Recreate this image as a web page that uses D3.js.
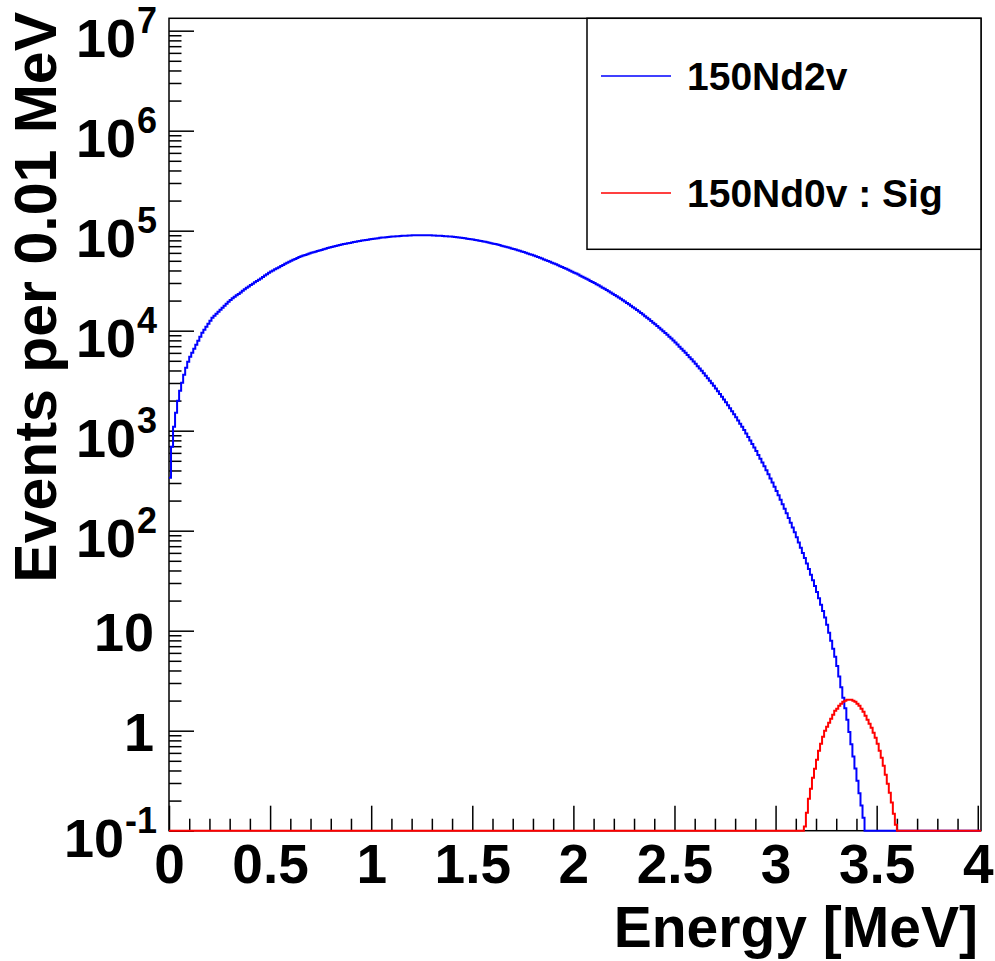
<!DOCTYPE html>
<html><head><meta charset="utf-8">
<script src="https://cdn.jsdelivr.net/npm/d3@7"></script>
<style>
html,body{margin:0;padding:0;background:#fff;}
svg{display:block;font-family:"Liberation Sans",Arial,Helvetica,sans-serif;font-weight:bold;}
</style></head><body>
<svg id="c" width="995" height="961"></svg>
<script>
// ---------------- data ----------------
const binWidth = 0.01;          // MeV per bin
const totalBins = 402;          // histogram range 0 .. 4.02 MeV
const seriesNames = ["150Nd2v", "150Nd0v : Sig"];

// 150Nd 2v spectrum, bins starting at 0 MeV
const nd2vFirstBin = 0;
const nd2vCounts = [
339,692,1096,1514,1995,2512,3020,3631,4266,4898,
5495,6026,6607,7244,7943,8710,9550,10230,10960,11750,
12590,13490,14130,14790,15490,16220,16980,17780,18620,19500,
20330,21080,21830,22580,23330,24160,25050,25950,26840,27730,
28640,29550,30460,31370,32280,33300,34450,35600,36740,37890,
38980,40020,41060,42090,43130,44240,45420,46600,47780,48960,
50090,51170,52250,53330,54410,55410,56340,57260,58190,59110,
60000,60850,61700,62550,63400,64290,65200,66110,67020,67930,
68800,69610,70420,71230,72040,72780,73470,74150,74840,75520,
76220,76930,77650,78360,79070,79710,80270,80830,81380,81940,
82510,83090,83670,84240,84820,85310,85710,86110,86500,86900,
87260,87590,87910,88230,88560,88820,89030,89230,89430,89640,
89780,89870,89950,90030,90120,90120,90030,89950,89870,89780,
89640,89430,89230,89030,88820,88560,88230,87910,87590,87260,
86860,86390,85910,85430,84960,84430,83860,83290,82710,82140,
81520,80850,80190,79520,78850,78130,77360,76590,75810,75040,
74230,73400,72560,71730,70890,70030,69150,68270,67390,66510,
65620,64710,63800,62890,61980,61060,60130,59210,58280,57350,
56410,55460,54510,53550,52600,51650,50710,49770,48830,47890,
46960,46050,45140,44220,43310,42410,41530,40660,39780,38900,
38040,37210,36370,35530,34700,33880,33080,32280,31470,30670,
29900,29150,28410,27670,26920,26200,25510,24810,24120,23420,
22750,22110,21470,20820,20180,19560,18970,18380,17790,17200,
16630,16100,15560,15020,14490,13980,13490,13010,12530,12040,
11590,11160,10730,10300,9875,9473,9097,8721,8344,7968,
7601,7256,6927,6612,6312,6013,5718,5438,5172,4918,
4668,4421,4187,3966,3756,3551,3349,3159,2980,2810,
2644,2483,2331,2189,2055,1924,1796,1677,1566,1462,
1362,1265,1175,1092,1014,938.4,865.8,798.8,737.0,680.0,
625.1,572.9,525.0,481.1,440.9,402.5,366.2,333.2,303.1,275.8,
249.9,225.7,203.8,184.1,166.2,149.5,134.0,120.0,107.5,96.35,
85.90,76.20,67.60,59.97,53.20,46.97,41.29,36.30,31.91,28.05,
24.43,21.09,18.20,15.71,13.56,11.49,9.555,7.946,6.608,5.495,
4.435,3.475,2.723,2.134,1.672,1.286,0.971,0.733,0.553,0.418,
0.315,0.237,0.179,0.135,0.09
];

// 150Nd 0v signal, bins starting at 3.14 MeV
const nd0vFirstBin = 314;
const nd0vCounts = [
0.110,0.151,0.209,0.263,0.339,0.417,0.513,0.631,0.741,0.871,
1.000,1.096,1.202,1.318,1.445,1.585,1.660,1.778,1.862,1.950,
1.995,2.042,2.042,2.042,1.995,1.950,1.862,1.778,1.660,1.549,
1.413,1.288,1.175,1.072,0.955,0.851,0.741,0.631,0.537,0.447,
0.363,0.295,0.240,0.191,0.148,0.115
];

const xDomain = [0, 4.016];
const yDomain = [0.1, 1.33e7];
const xMajorTicks = [0, 0.5, 1, 1.5, 2, 2.5, 3, 3.5, 4];
const xMajorLabels = ["0", "0.5", "1", "1.5", "2", "2.5", "3", "3.5", "4"];
const xMinorTicks = [0.1,0.2,0.3,0.4,0.6,0.7,0.8,0.9,1.1,1.2,1.3,1.4,1.6,1.7,1.8,1.9,
  2.1,2.2,2.3,2.4,2.6,2.7,2.8,2.9,3.1,3.2,3.3,3.4,3.6,3.7,3.8,3.9];
const yMajorTicks = [0.1, 1, 10, 1e2, 1e3, 1e4, 1e5, 1e6, 1e7];
const yMajorLabels = [["10","-1"],["1",""],["10",""],["10","2"],["10","3"],["10","4"],["10","5"],["10","6"],["10","7"]];
const yMinorMultipliers = [2,3,4,5,6,7,8,9];
const xTitle = "Energy [MeV]";
const yTitle = "Events per 0.01 MeV";

// ---------------- layout ----------------
const L = 169, R = 981, T = 18.3, B = 830.7;
const svg = d3.select("#c");
const x = d3.scaleLinear().domain(xDomain).range([L, R]);
const y = d3.scaleLog().domain(yDomain).range([B, T]);

svg.append("rect").attr("width", 995).attr("height", 961).attr("fill", "#fff");

svg.append("clipPath").attr("id", "clip").append("rect")
  .attr("x", L).attr("y", T - 2).attr("width", R - L).attr("height", B - T + 4);

// frame
svg.append("rect").attr("x", L).attr("y", T).attr("width", R - L).attr("height", B - T)
  .attr("fill", "none").attr("stroke", "#000").attr("stroke-width", 1.5);

const yMinorTicks = [];
for (let e = -1; e <= 7; e++) yMinorMultipliers.forEach(m => {
  const v = m * Math.pow(10, e);
  if (v < yDomain[1]) yMinorTicks.push(v);
});

// x axis
const gx = svg.append("g").attr("transform", `translate(0,${B})`);
gx.call(d3.axisBottom(x).tickValues(xMajorTicks).tickSize(-25).tickPadding(13)
  .tickFormat((d, i) => xMajorLabels[i]));
const gxm = svg.append("g").attr("transform", `translate(0,${B})`);
gxm.call(d3.axisBottom(x).tickValues(xMinorTicks).tickSize(-12).tickFormat(""));
[gx, gxm].forEach(g => {
  g.select(".domain").remove();
  g.selectAll(".tick line").attr("stroke", "#000").attr("stroke-width", 1.5);
});
gx.selectAll(".tick text").attr("fill", "#000").attr("font-size", 55)
  .attr("font-family", '"Liberation Sans",Arial,sans-serif').attr("font-weight", "bold");

// y axis
const gy = svg.append("g").attr("transform", `translate(${L},0)`);
gy.call(d3.axisLeft(y).tickValues(yMajorTicks).tickSize(-25).tickFormat(""));
const gym = svg.append("g").attr("transform", `translate(${L},0)`);
gym.call(d3.axisLeft(y).tickValues(yMinorTicks).tickSize(-12.5).tickFormat(""));
[gy, gym].forEach(g => {
  g.select(".domain").remove();
  g.selectAll(".tick line").attr("stroke", "#000").attr("stroke-width", 1.5);
});
gy.selectAll(".tick text").remove();
gy.selectAll(".tick").each(function (d, i) {
  const g = d3.select(this);
  const [base, ex] = yMajorLabels[i];
  const rightEdge = -12;
  if (ex) {
    const et = g.append("text").attr("x", rightEdge).attr("y", 2)
      .attr("text-anchor", "end").attr("font-size", 36).attr("fill", "#000").text(ex);
    const baseRight = rightEdge - et.node().getComputedTextLength() - 1;
    g.append("text").attr("x", baseRight).attr("y", 26)
      .attr("text-anchor", "end").attr("font-size", 54).attr("fill", "#000").text(base);
  } else {
    g.append("text").attr("x", rightEdge - 3).attr("y", 20)
      .attr("text-anchor", "end").attr("font-size", 54).attr("fill", "#000").text(base);
  }
});

// histograms
function histPoints(counts, firstBin) {
  const pts = [];
  for (let i = 0; i < totalBins; i++) {
    const j = i - firstBin;
    const c = (j >= 0 && j < counts.length) ? counts[j] : 0;
    pts.push([i * binWidth, Math.max(c, yDomain[0])]);
  }
  pts.push([totalBins * binWidth, pts[pts.length - 1][1]]);
  return pts;
}
const line = d3.line().x(d => x(d[0])).y(d => y(d[1])).curve(d3.curveStepAfter);
const hg = svg.append("g").attr("clip-path", "url(#clip)");
hg.append("path").attr("d", line(histPoints(nd2vCounts, nd2vFirstBin)))
  .attr("fill", "none").attr("stroke", "#0000ff").attr("stroke-width", 2);
hg.append("path").attr("d", line(histPoints(nd0vCounts, nd0vFirstBin)))
  .attr("fill", "none").attr("stroke", "#ff0000").attr("stroke-width", 2);

// titles
svg.append("text").attr("x", 978).attr("y", 947).attr("text-anchor", "end")
  .attr("font-size", 57).attr("fill", "#000").text(xTitle);
svg.append("text").attr("transform", "translate(56,12) rotate(-90)").attr("text-anchor", "end")
  .attr("font-size", 59).attr("fill", "#000").text(yTitle);

// legend
const lg = svg.append("g");
lg.append("rect").attr("x", 587).attr("y", T).attr("width", R - 587).attr("height", 249.3 - T)
  .attr("fill", "#fff").attr("stroke", "#000").attr("stroke-width", 1.5);
const legendColors = ["#0000ff", "#ff0000"];
const legendY = [76, 193];
seriesNames.forEach((name, i) => {
  lg.append("line").attr("x1", 601).attr("x2", 671).attr("y1", legendY[i]).attr("y2", legendY[i])
    .attr("stroke", legendColors[i]).attr("stroke-width", 1.5);
  lg.append("text").attr("x", 687).attr("y", legendY[i] + 14).attr("font-size", 39)
    .attr("fill", "#000").text(name);
});
</script>
</body></html>
